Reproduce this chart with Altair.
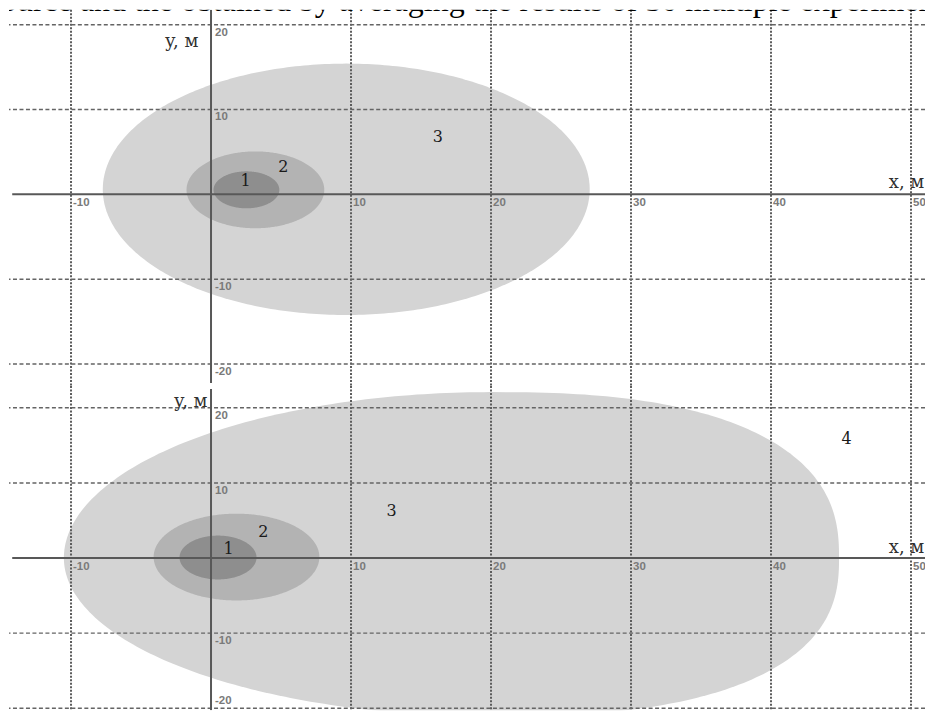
import numpy as np
import pandas as pd
import altair as alt

# ---------------- data ----------------
x_domain = [-14.43, 51.0]
top_y_domain = [-22.59, 21.76]
bot_y_domain = [-20.27, 22.92]

grid_x = [-10, 10, 20, 30, 40, 50]
grid_y = [-20, -10, 10, 20]
x_tick_labels = ["-10", "10", "20", "30", "40", "50"]
y_tick_labels = ["-20", "-10", "10", "20"]

# zones (outer to inner): id, centre, half-widths left/right, half-heights up/down, shape exponents
top_zone_id = [3, 2, 1]
top_cx = [9.66, 3.17, 2.53]
top_cy = [0.59, 0.53, 0.53]
top_a_left = [17.39, 4.92, 2.35]
top_a_right = [17.39, 4.92, 2.35]
top_b_up = [14.82, 4.53, 2.18]
top_b_down = [14.82, 4.53, 2.18]
top_n_left = [2.0, 2.0, 2.0]
top_n_right = [2.0, 2.0, 2.0]

bot_zone_id = [3, 2, 1]
bot_cx = [20.0, 1.82, 0.50]
bot_cy = [0.0, 0.13, 0.07]
bot_a_left = [30.51, 5.92, 2.75]
bot_a_right = [24.86, 5.92, 2.75]
bot_b_up = [22.1, 5.78, 2.92]
bot_b_down = [21.1, 5.78, 2.92]
bot_n_left = [2.0, 2.0, 2.0]
bot_n_right = [2.5, 2.0, 2.0]

zone_colors = {3: "#d4d4d4", 2: "#b3b3b3", 1: "#8e8e8e"}

top_label_text = ["1", "2", "3"]
top_label_x = [2.46, 5.17, 16.2]
top_label_y = [1.53, 3.18, 6.7]

bot_label_text = ["1", "2", "3", "4"]
bot_label_x = [1.25, 3.74, 12.9, 45.4]
bot_label_y = [1.26, 3.52, 6.3, 15.9]

top_ytitle_pos = [-0.9, 17.4]
bot_ytitle_pos = [-0.25, 20.1]
xtitle_x = 50.95
top_yaxis_span = [21.76, -22.24]
bot_yaxis_span = [22.52, -20.27]
xaxis_start = -14.2

caption = "ource and the obtained by averaging the results of 30 multiple experiment"
caption_pos = [-15.0, 21.65]


# ---------------- helpers ----------------
def zone_outline(cx, cy, aL, aR, bU, bD, nL, nR, steps=181):
    th = np.linspace(-np.pi / 2, np.pi / 2, steps)
    t = np.sin(th)
    s = np.abs(t)
    y = cy + np.where(t >= 0, bU, bD) * t
    xl = cx - aL * np.clip(1 - s ** nL, 0, None) ** (1 / nL)
    xr = cx + aR * np.clip(1 - s ** nR, 0, None) ** (1 / nR)
    return pd.DataFrame({"y": y, "xl": xl, "xr": xr})


def panel(ydom, ids, cxs, cys, aLs, aRs, bUs, bDs, nLs, nRs,
          lab_t, lab_x, lab_y, ytitle, yspan, xtitle_dy, width, height,
          with_caption, bottom_label_up):
    xs = alt.Scale(domain=x_domain, nice=False, zero=False)
    ys = alt.Scale(domain=ydom, nice=False, zero=False)
    X = lambda f: alt.X(f, scale=xs, axis=None)
    Y = lambda f: alt.Y(f, scale=ys, axis=None)
    layers = []
    for i, zid in enumerate(ids):
        df = zone_outline(cxs[i], cys[i], aLs[i], aRs[i], bUs[i], bDs[i], nLs[i], nRs[i])
        layers.append(
            alt.Chart(df).mark_area(orient="horizontal", clip=True,
                                    color=zone_colors[zid], opacity=1).encode(
                x=X("xl:Q"), x2="xr:Q", y=Y("y:Q"))
        )
    gx = pd.DataFrame({"x": grid_x, "lab": x_tick_labels})
    gy = pd.DataFrame({"y": grid_y, "lab": y_tick_labels})
    layers.append(
        alt.Chart(gx).mark_rule(color="#5c5c5c", strokeWidth=2, strokeDash=[2, 1.5]).encode(
            x=X("x:Q")))
    layers.append(
        alt.Chart(gy).mark_rule(color="#646464", strokeWidth=1.5, strokeDash=[4, 2.5]).encode(
            y=Y("y:Q")))
    # axis lines
    layers.append(
        alt.Chart(pd.DataFrame({"x": [xaxis_start], "x2": [x_domain[1]], "y": [0]}))
        .mark_rule(color="#585858", strokeWidth=2, clip=True).encode(
            x=X("x:Q"), x2="x2:Q", y=Y("y:Q")))
    layers.append(
        alt.Chart(pd.DataFrame({"x": [0], "y": [yspan[0]], "y2": [yspan[1]]}))
        .mark_rule(color="#585858", strokeWidth=2, clip=True).encode(
            x=X("x:Q"), y=Y("y:Q"), y2="y2:Q"))
    # tick labels
    tick_style = dict(font="Liberation Sans", fontSize=11.5, fontWeight="bold",
                      color="#7a7a7a", align="left", clip=True)
    gx0 = gx.assign(y=0)
    layers.append(
        alt.Chart(gx0).mark_text(dx=2, dy=3, baseline="top", **tick_style).encode(
            x=X("x:Q"), y=Y("y:Q"), text="lab:N"))
    gy0 = gy.assign(x=0)
    if bottom_label_up:
        gy_lo = gy0[gy0["y"] == min(grid_y)]
        gy0 = gy0[gy0["y"] != min(grid_y)]
        layers.append(
            alt.Chart(gy_lo).mark_text(dx=4, dy=-2, baseline="bottom", **tick_style).encode(
                x=X("x:Q"), y=Y("y:Q"), text="lab:N"))
    layers.append(
        alt.Chart(gy0).mark_text(dx=4, dy=2, baseline="top", **tick_style).encode(
            x=X("x:Q"), y=Y("y:Q"), text="lab:N"))
    # axis titles
    title_style = dict(font="DejaVu Serif", fontSize=18, color="#303030", align="right",
                       baseline="alphabetic", clip=True)
    layers.append(
        alt.Chart(pd.DataFrame({"x": [xtitle_x], "y": [0], "t": ["x, м"]}))
        .mark_text(dy=xtitle_dy, **title_style).encode(
            x=X("x:Q"), y=Y("y:Q"), text="t:N"))
    layers.append(
        alt.Chart(pd.DataFrame({"x": [ytitle[0]], "y": [ytitle[1]], "t": ["y, м"]}))
        .mark_text(**title_style).encode(
            x=X("x:Q"), y=Y("y:Q"), text="t:N"))
    # zone numbers
    layers.append(
        alt.Chart(pd.DataFrame({"x": lab_x, "y": lab_y, "t": lab_t}))
        .mark_text(font="DejaVu Serif", fontSize=16, color="#1a1a1a", align="center",
                   baseline="middle", clip=True).encode(
            x=X("x:Q"), y=Y("y:Q"), text="t:N"))
    if with_caption:
        layers.append(
            alt.Chart(pd.DataFrame({"x": [caption_pos[0]], "y": [caption_pos[1]], "t": [caption]}))
            .mark_text(font="Liberation Serif", fontSize=32, color="#000000", align="left",
                       baseline="alphabetic", clip=True).encode(
                x=X("x:Q"), y=Y("y:Q"), text="t:N"))
    return alt.layer(*layers).properties(width=width, height=height)


top = panel(top_y_domain, top_zone_id, top_cx, top_cy, top_a_left, top_a_right,
            top_b_up, top_b_down, top_n_left, top_n_right,
            top_label_text, top_label_x, top_label_y,
            top_ytitle_pos, top_yaxis_span, -6, 918, 377, True, False)
bottom = panel(bot_y_domain, bot_zone_id, bot_cx, bot_cy, bot_a_left, bot_a_right,
               bot_b_up, bot_b_down, bot_n_left, bot_n_right,
               bot_label_text, bot_label_x, bot_label_y,
               bot_ytitle_pos, bot_yaxis_span, -5, 918, 325, False, True)

chart = (
    alt.vconcat(top, bottom, spacing=0, bounds="flush")
    .properties(padding=0, background="white")
    .configure_view(stroke=None)
)

chart.save("out.html", embed_options={"renderer": "svg", "actions": False})
